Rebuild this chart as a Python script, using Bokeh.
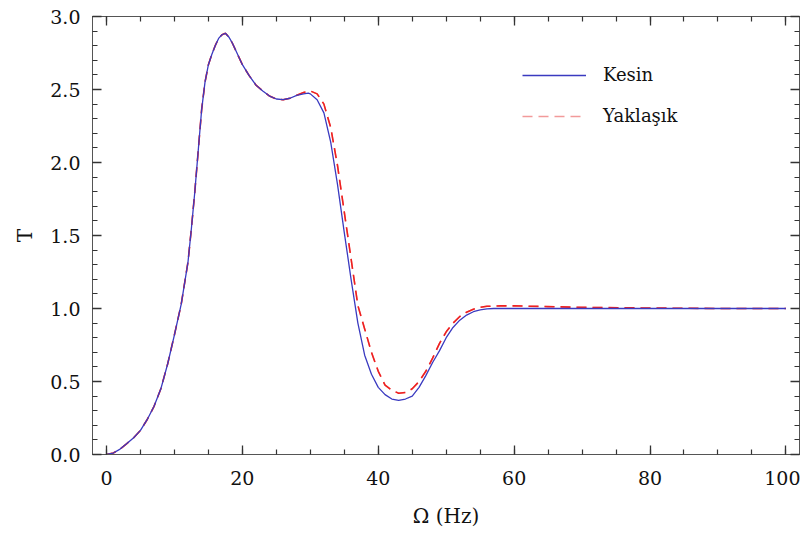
from bokeh.plotting import figure
from bokeh.models import (Range1d, LinearAxis, SingleIntervalTicker, Legend, LegendItem,
                          PrintfTickFormatter, CustomJSTickFormatter)
from bokeh.embed import file_html
from bokeh.resources import INLINE

# ---- data ----
omega_kesin = [0, 1, 2, 3, 4, 5, 6, 7, 8, 9, 10, 11, 12, 12.5, 13, 13.5, 14, 14.5, 15, 15.5,
               16, 16.5, 17, 17.5, 18, 18.5, 19, 20, 21, 22, 23, 24, 25, 26, 27, 28, 29, 29.7,
               30, 31, 32, 33, 34, 35, 36, 37, 38, 39, 40, 41, 42, 43, 44, 45, 46, 47, 48, 49,
               50, 51, 52, 53, 54, 55, 56, 57, 60, 70, 80, 90, 100]
t_kesin = [0, 0.01, 0.037, 0.075, 0.115, 0.165, 0.24, 0.33, 0.45, 0.62, 0.82, 1.03, 1.32, 1.55,
           1.80, 2.08, 2.36, 2.55, 2.67, 2.74, 2.80, 2.85, 2.875, 2.885, 2.86, 2.82, 2.77, 2.67,
           2.595, 2.53, 2.49, 2.455, 2.435, 2.43, 2.44, 2.46, 2.47, 2.475, 2.47, 2.43, 2.34,
           2.14, 1.85, 1.52, 1.20, 0.90, 0.68, 0.55, 0.46, 0.41, 0.38, 0.37, 0.38, 0.40, 0.46,
           0.54, 0.63, 0.71, 0.80, 0.87, 0.92, 0.955, 0.978, 0.99, 0.997, 1.0, 1.0, 1.0, 1.0,
           1.0, 1.0]

omega_yaklasik = [0, 1, 2, 3, 4, 5, 6, 7, 8, 9, 10, 11, 12, 12.5, 13, 13.5, 14, 14.5, 15, 15.5,
                  16, 16.5, 17, 17.5, 18, 18.5, 19, 20, 21, 22, 23, 24, 25, 26, 27, 28, 29, 30,
                  31, 32, 33, 34, 35, 36, 37, 38, 39, 40, 41, 42, 43, 44, 45, 46, 47, 48, 49, 50,
                  51, 52, 53, 54, 55, 56, 58, 60, 65, 70, 80, 90, 100]
t_yaklasik = [0, 0.01, 0.037, 0.075, 0.115, 0.165, 0.24, 0.33, 0.45, 0.62, 0.82, 1.03, 1.32, 1.55,
              1.80, 2.08, 2.36, 2.55, 2.67, 2.74, 2.80, 2.85, 2.875, 2.885, 2.86, 2.82, 2.77, 2.67,
              2.595, 2.53, 2.49, 2.455, 2.435, 2.43, 2.44, 2.46, 2.48, 2.49, 2.47, 2.40, 2.24,
              1.98, 1.66, 1.34, 1.02, 0.86, 0.70, 0.57, 0.475, 0.44, 0.42, 0.425, 0.45, 0.50,
              0.57, 0.66, 0.76, 0.84, 0.90, 0.945, 0.975, 0.995, 1.008, 1.015, 1.018, 1.018,
              1.013, 1.008, 1.003, 1.0, 1.0]

x_tick_step, x_minor_per_major = 20, 4
y_tick_step, y_minor_per_major = 0.5, 5

x_label = "\u03a9 (Hz)"
y_label = "T"
series_names = ["Kesin", "Yaklaşık"]

FONT = "DejaVu Serif"
AX = "#333333"

p = figure(width=800, height=530, output_backend="svg", toolbar_location=None,
           x_range=Range1d(-2.06, 102), y_range=Range1d(0, 3),
           min_border_left=92, min_border_right=1, min_border_top=16, min_border_bottom=76)
p.background_fill_alpha = 0
p.border_fill_color = "white"
p.outline_line_color = "#555555"
p.xgrid.visible = False
p.ygrid.visible = False

def style(ax, labels=True):
    ax.axis_line_color = "#555555"
    ax.major_tick_line_color = AX
    ax.minor_tick_line_color = AX
    ax.major_tick_line_width = 1.3
    ax.minor_tick_line_width = 1.2
    ax.major_tick_in = 9
    ax.major_tick_out = 0
    ax.minor_tick_in = 5
    ax.minor_tick_out = 0
    if labels:
        ax.major_label_text_font = FONT
        ax.major_label_text_font_size = "19px"
        ax.major_label_text_color = "#111111"
        ax.axis_label_text_font = FONT
        ax.axis_label_text_font_size = "20px"
        ax.axis_label_text_font_style = "normal"
        ax.axis_label_text_color = "#111111"
    else:
        ax.formatter = CustomJSTickFormatter(code="return ''")
        ax.major_label_standoff = 0

p.xaxis.ticker = SingleIntervalTicker(interval=x_tick_step, num_minor_ticks=x_minor_per_major + 0)
p.yaxis.ticker = SingleIntervalTicker(interval=y_tick_step, num_minor_ticks=y_minor_per_major)
p.yaxis.formatter = PrintfTickFormatter(format="%.1f")
style(p.xaxis[0])
style(p.yaxis[0])
p.xaxis.major_label_standoff = 16
p.yaxis.major_label_standoff = 12
p.xaxis.axis_label = x_label
p.yaxis.axis_label = y_label
p.xaxis.axis_label_standoff = 16
p.yaxis.axis_label_standoff = 10

top = LinearAxis(ticker=SingleIntervalTicker(interval=x_tick_step, num_minor_ticks=x_minor_per_major))
right = LinearAxis(ticker=SingleIntervalTicker(interval=y_tick_step, num_minor_ticks=y_minor_per_major))
style(top, labels=False)
style(right, labels=False)
p.add_layout(top, "above")
p.add_layout(right, "right")

# pink copy underneath the red dashed curve, used for the legend swatch
r_leg = p.line(omega_yaklasik, t_yaklasik, line_color="#f29a9a", line_width=1.4, line_dash="10 6")
r_y = p.line(omega_yaklasik, t_yaklasik, line_color="#ee2020", line_width=1.6, line_dash="10 6")
r_k = p.line(omega_kesin, t_kesin, line_color="#3a3ac0", line_width=1.3)

legend = Legend(items=[LegendItem(label=series_names[0], renderers=[r_k]),
                       LegendItem(label=series_names[1], renderers=[r_leg])],
                location=(430, 328), orientation="vertical")
legend.background_fill_alpha = 0
legend.border_line_color = None
legend.padding = 0
legend.margin = 0
legend.glyph_width = 64
legend.glyph_height = 20
legend.label_height = 20
legend.label_standoff = 17
legend.spacing = 20
legend.label_text_font = FONT
legend.label_text_font_size = "18px"
legend.label_text_color = "#111111"
p.add_layout(legend, "center")

open("out.html", "w").write(file_html(p, INLINE))
